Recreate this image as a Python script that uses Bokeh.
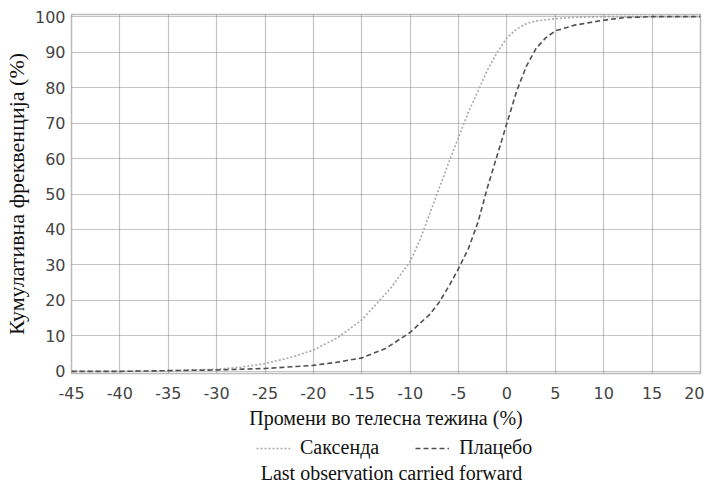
from bokeh.plotting import figure
from bokeh.layouts import column
from bokeh.models import FixedTicker, Legend, LegendItem, Label, Range1d
from bokeh.embed import file_html
from bokeh.resources import INLINE

# Data (cumulative frequency, %)
sax_x = [-45, -40, -35, -30, -27.5, -25, -22.5, -20, -17.5, -15, -13.5, -12, -10, -9,
         -7.5, -6, -5, -4, -3, -2, -1, 0, 1, 2, 3, 5, 7, 10, 15, 20]
sax_y = [0, 0, 0.2, 0.6, 1.2, 2.2, 3.8, 6, 9.5, 14.5, 19, 23.5, 31, 37,
         48, 59, 66, 73, 79, 85, 90, 94, 96.5, 98, 98.8, 99.4, 99.8, 100, 100, 100]

pla_x = [-45, -40, -35, -30, -25, -20, -17.5, -15, -12.5, -10, -8, -7, -6, -5,
         -4, -3, -2, -1, 0, 1, 2, 3, 4, 5, 7, 10, 12, 15, 20]
pla_y = [0, 0, 0.2, 0.4, 0.8, 1.7, 2.6, 3.8, 6.5, 11, 16, 19.5, 24, 29,
         34.5, 42, 52, 61, 70, 79, 86, 91, 94, 96, 97.6, 99, 99.7, 100, 100]

x_ticks = list(range(-45, 21, 5))
y_ticks = list(range(0, 101, 10))

series_names = ["Саксенда", "Плацебо"]
x_title = "Промени во телесна тежина (%)"
y_title = "Кумулативна фреквенција (%)"
footnote = "Last observation carried forward"

SERIF = "Liberation Serif"
SANS = "DejaVu Sans"

SAX_STYLE = dict(line_color="#a8a8a8", line_dash="2 2", line_width=1.6)
PLA_STYLE = dict(line_color="#505050", line_dash="5 3", line_width=1.6)

p = figure(width=704, height=431, output_backend="svg", toolbar_location=None,
           x_range=Range1d(-45, 20), y_range=Range1d(-0.6, 100.6),
           min_border_left=64, min_border_right=4, min_border_top=14,
           min_border_bottom=0)

p.background_fill_color = "white"
p.border_fill_color = "white"
p.outline_line_color = "#777777"
p.outline_line_dash = "1 1"
p.outline_line_width = 1.5

for g in (p.xgrid, p.ygrid):
    g.grid_line_color = "#888888"
    g.grid_line_dash = "1 1"
    g.grid_line_width = 1.2

p.xaxis.ticker = FixedTicker(ticks=x_ticks)
p.yaxis.ticker = FixedTicker(ticks=y_ticks)
p.xgrid.ticker = FixedTicker(ticks=x_ticks)
p.ygrid.ticker = FixedTicker(ticks=y_ticks)
p.xaxis.major_label_overrides = {t: str(t) for t in x_ticks}
p.yaxis.major_label_overrides = {t: str(t) for t in y_ticks}

for ax in (p.xaxis, p.yaxis):
    ax.axis_line_color = None
    ax.major_tick_line_color = None
    ax.minor_tick_line_color = None
    ax.major_tick_out = 0
    ax.major_tick_in = 0
    ax.major_label_text_font = SANS
    ax.major_label_text_font_size = "16px"
    ax.major_label_text_color = "#444444"
    ax.axis_label_text_font = SERIF
    ax.axis_label_text_font_size = "20px"
    ax.axis_label_text_font_style = "normal"
    ax.axis_label_text_color = "#111111"

p.yaxis.axis_label_text_font_size = "22px"
p.xaxis.axis_label = x_title
p.yaxis.axis_label = y_title
p.xaxis.major_label_standoff = 13
p.xaxis.axis_label_standoff = 5
p.yaxis.major_label_standoff = 6
p.yaxis.axis_label_standoff = 3

p.line(sax_x, sax_y, **SAX_STYLE)
p.line(pla_x, pla_y, **PLA_STYLE)

# Lower strip holding the legend and the footnote
p2 = figure(width=704, height=51, output_backend="svg", toolbar_location=None,
            x_range=Range1d(0, 1), y_range=Range1d(0, 1), min_border=0)
p2.axis.visible = False
p2.grid.visible = False
p2.outline_line_color = None
p2.background_fill_color = "white"
p2.border_fill_color = "white"

l_sax = p2.line(sax_x, sax_y, visible=False, **SAX_STYLE)
l_pla = p2.line(pla_x, pla_y, visible=False, **PLA_STYLE)

legend = Legend(items=[LegendItem(label=series_names[0], renderers=[l_sax]),
                       LegendItem(label=series_names[1], renderers=[l_pla])],
                orientation="horizontal", location=(185, 23),
                border_line_color=None, background_fill_alpha=0,
                label_text_font=SERIF, label_text_font_size="20px",
                label_text_color="#111111", glyph_width=34, label_standoff=10,
                spacing=36, padding=2, margin=0, click_policy="none")
p2.add_layout(legend, "center")

foot = Label(x=320, y=10, x_units="screen", y_units="screen", text=footnote,
             text_align="center", text_baseline="middle", text_font=SERIF,
             text_font_size="20px", text_color="#111111")
p2.add_layout(foot)

layout = column(p, p2, spacing=0)
open("out.html", "w").write(file_html(layout, INLINE))
